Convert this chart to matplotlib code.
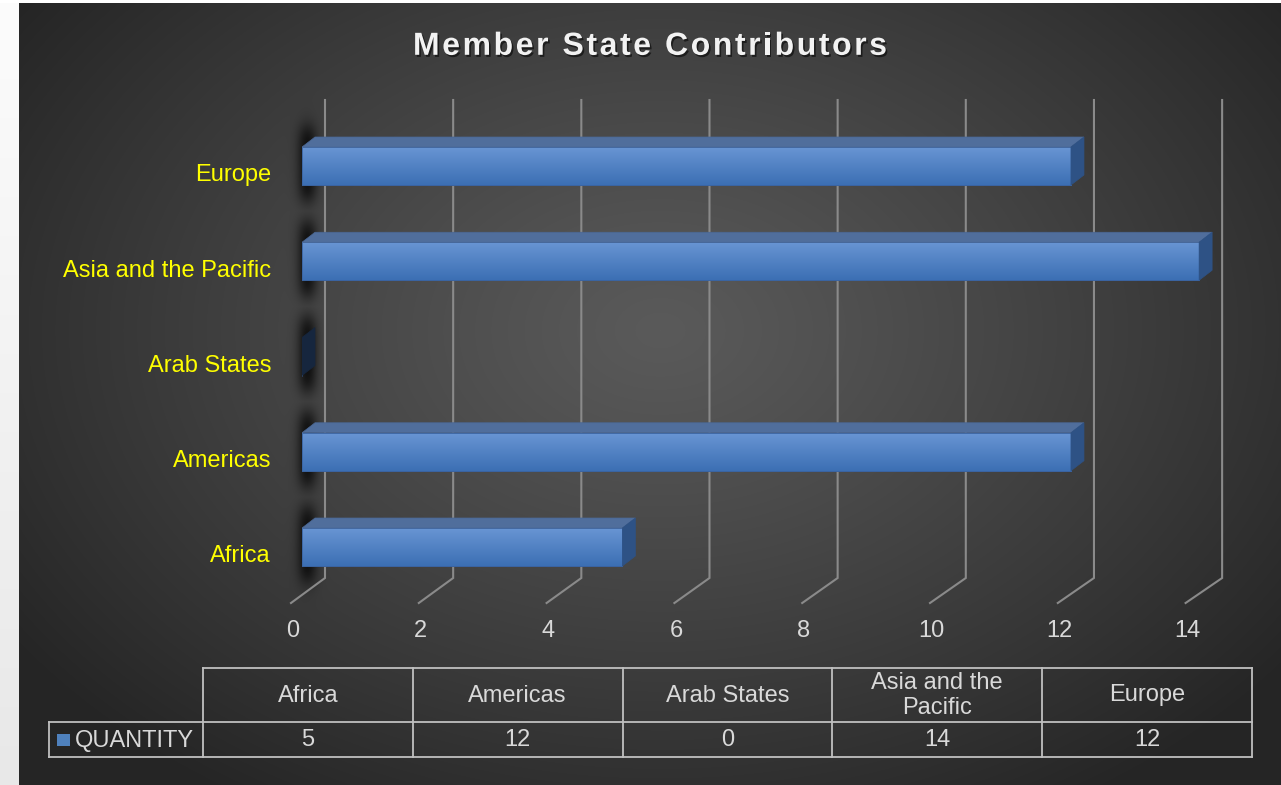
import textwrap
import numpy as np
import matplotlib
matplotlib.use("Agg")
import matplotlib.pyplot as plt
from matplotlib.patches import Polygon, Rectangle
from matplotlib import patheffects as pe
from matplotlib.font_manager import FontProperties, findfont
from matplotlib.ft2font import FT2Font

# ---------------- data ----------------
categories = ["Africa", "Americas", "Arab States", "Asia and the Pacific", "Europe"]
quantity = [5, 12, 0, 14, 12]
x_ticks = [0, 2, 4, 6, 8, 10, 12, 14]
series_name = "QUANTITY"
title = "Member State Contributors"

# ---------------- layout / style ----------------
W, H, DPI = 1281, 785, 100
FONT = "Liberation Sans"
plt.rcParams["font.family"] = [FONT, "DejaVu Sans"]

X0, PPX = 302.0, 64.08          # front plane: value 0 pixel, pixels per unit
CAT0_Y, CAT_STEP = 547.0, 95.25  # pixel centre of first category, spacing
BAR_PX = 38.0
DEPTH_DX, DEPTH_DY = 13.0, 10.0  # bar depth offset (px)
BACK_DX = 23.0                   # back wall offset (px)
GRID_TOP, GRID_BOT, FLOOR_FRONT = 100.0, 578.0, 603.0
FLOOR_X0, FLOOR_SCALE = 291.0, 63.9 / 64.08
TICK_Y, TICK_X0 = 631.0, 292.7
LABEL_RIGHT = 271.0
LABEL_BASE_OFF = 15.5
FS_TXT = 17.0
TXT_COL = "#d9d9d9"
GRID_COL = "#8a8a8a"

fig = plt.figure(figsize=(W / DPI, H / DPI), dpi=DPI)

# main (front plane) axes
ax_bottom_px = CAT0_Y + 0.5 * CAT_STEP
ax = fig.add_axes([X0 / W, 1 - ax_bottom_px / H, 15 * PPX / W, 5 * CAT_STEP / H])
ax.set_xlim(0, 15)
ax.set_ylim(-0.5, 4.5)
ax.set_axis_off()
ax.patch.set_alpha(0)


def px2d(p):
    return (p - X0) / PPX


def py2d(p):
    return (CAT0_Y - p) / CAT_STEP


DX, DY = DEPTH_DX / PPX, DEPTH_DY / CAT_STEP
bar_h = BAR_PX / CAT_STEP

# ---------------- background with radial gradient + bar shadows ----------------
yy, xx = np.mgrid[0:H, 0:W].astype(float)
r = np.sqrt(((xx - 660) / 790) ** 2 + ((yy - 330) / 560) ** 2)
g = (0x5a - (0x5a - 0x25) * np.clip(r, 0, 1) ** 1.15) / 255.0
bg = np.dstack([g, g, g])

shadow = np.zeros((H, W))
for i in range(len(categories)):
    disp = ax.transData.transform((0, i))
    yc = H - disp[1]
    xc = disp[0] + 5
    t, b = yc - BAR_PX / 2 - 20, yc + BAR_PX / 2 + 14
    mx = np.exp(-0.5 * ((xx - xc) / 7.0) ** 2)
    my = 1 / (1 + np.exp(-(yy - t) / 6)) * 1 / (1 + np.exp((yy - b) / 6))
    shadow = np.maximum(shadow, 0.78 * mx * my)
bg = bg * (1 - shadow[..., None])

# page strip on the left / top
strip = (252 - 20 * yy[:, :19] / H) / 255.0
bg[:, :19, :] = strip[..., None]
bg[:3, :, :] = 1.0

bgax = fig.add_axes([0, 0, 1, 1])
bgax.set_zorder(-1)
bgax.imshow(bg, extent=[0, W, H, 0], interpolation="bilinear", aspect="auto")
bgax.set_xlim(0, W)
bgax.set_ylim(H, 0)
bgax.set_axis_off()

# ---------------- gridlines (back wall + floor) ----------------
for v in x_ticks:
    xb = v + BACK_DX / PPX
    xf = v * FLOOR_SCALE + px2d(FLOOR_X0)
    ax.plot([xb, xb, xf], [py2d(GRID_TOP), py2d(GRID_BOT), py2d(FLOOR_FRONT)],
            color=GRID_COL, lw=1.5, zorder=1, clip_on=False, solid_joinstyle="miter")
    ax.text(v * FLOOR_SCALE + px2d(TICK_X0), py2d(TICK_Y), str(v), ha="center",
            va="center", fontsize=FS_TXT, color=TXT_COL, clip_on=False)

# ---------------- bars ----------------
bars = ax.barh(range(len(categories)), quantity, height=bar_h, color="#4a7cbf",
               edgecolor="#3a64a2", linewidth=0.6, zorder=3)
grad = np.linspace(0, 1, 64)[:, None]
top_c = np.array([0x68, 0x95, 0xd3]) / 255
bot_c = np.array([0x3c, 0x6f, 0xb4]) / 255
grad_img = (top_c[None, None, :] * (1 - grad[..., None]) + bot_c[None, None, :] * grad[..., None])
for bar in bars:
    x0, y0, w, hh = bar.get_x(), bar.get_y(), bar.get_width(), bar.get_height()
    if w > 0:
        im = ax.imshow(grad_img, extent=[x0, x0 + w, y0, y0 + hh], origin="upper",
                       aspect="auto", zorder=3.5, interpolation="bilinear")
        im.set_clip_path(bar)
        ax.add_patch(Rectangle((x0, y0), w, hh, facecolor="none", edgecolor="#3a64a2",
                               lw=0.6, zorder=3.6))
        ax.add_patch(Polygon([(x0, y0 + hh), (x0 + w, y0 + hh), (x0 + w + DX, y0 + hh + DY),
                              (x0 + DX, y0 + hh + DY)], closed=True, facecolor="#506e9c",
                             edgecolor="#4a6794", lw=0.5, zorder=4))
        side_col = "#2e5285"
    else:
        side_col = "#16263e"
    ax.add_patch(Polygon([(x0 + w, y0), (x0 + w + DX, y0 + DY), (x0 + w + DX, y0 + hh + DY),
                          (x0 + w, y0 + hh)], closed=True, facecolor=side_col,
                         edgecolor=side_col, lw=0.5, zorder=4))
ax.set_xlim(0, 15)
ax.set_ylim(-0.5, 4.5)

# category labels
for i, cat in enumerate(categories):
    ax.text(px2d(LABEL_RIGHT), i - LABEL_BASE_OFF / CAT_STEP, cat, ha="right",
            va="baseline", fontsize=FS_TXT, color="#ffff00", clip_on=False)

# ---------------- overlay axes in pixel coordinates (title + data table) ----------------
tax = fig.add_axes([0, 0, 1, 1])
tax.set_xlim(0, W)
tax.set_ylim(H, 0)
tax.set_axis_off()
tax.patch.set_alpha(0)

# title with letter spacing
TITLE_FS, TITLE_W, TITLE_CX, TITLE_BASE = 23.0, 474.0, 650.0, 54.8
fpath = findfont(FontProperties(family=FONT, weight="bold"))
ft = FT2Font(fpath)
ft.set_size(TITLE_FS, DPI)
adv = [ft.load_char(ord(c)).linearHoriAdvance / 65536 for c in title]
sp = (TITLE_W - sum(adv)) / (len(title) - 1)
x = TITLE_CX - TITLE_W / 2
for c, a in zip(title, adv):
    if c != " ":
        tax.text(x, TITLE_BASE, c, ha="left", va="baseline", fontsize=TITLE_FS,
                 fontweight="bold", color="#f2f2f2",
                 path_effects=[pe.withSimplePatchShadow(offset=(1.2, -1.5),
                                                        shadow_rgbFace="black", alpha=0.55)])
    x += a + sp

# data table
T_LEFT, T_RIGHT, RL_LEFT = 203.0, 1252.0, 49.0
R_TOP, R_MID, R_BOT = 668.0, 722.0, 757.0
LINE_COL = "#c0c0c0"
ncol = len(categories)
col_w = (T_RIGHT - T_LEFT) / ncol
lk = dict(color=LINE_COL, lw=1.3, solid_capstyle="projecting")
tax.plot([T_LEFT, T_RIGHT], [R_TOP, R_TOP], **lk)
tax.plot([RL_LEFT, T_RIGHT], [R_MID, R_MID], **lk)
tax.plot([RL_LEFT, T_RIGHT], [R_BOT, R_BOT], **lk)
tax.plot([RL_LEFT, RL_LEFT], [R_MID, R_BOT], **lk)
for k in range(ncol + 1):
    xk = T_LEFT + k * col_w
    tax.plot([xk, xk], [R_TOP, R_BOT], **lk)
for k, (cat, v) in enumerate(zip(categories, quantity)):
    xc = T_LEFT + (k + 0.5) * col_w
    tax.text(xc, (R_TOP + R_MID) / 2 + 0.5, textwrap.fill(cat, 12), ha="center", va="center",
             fontsize=FS_TXT, color=TXT_COL, linespacing=1.2)
    tax.text(xc, (R_MID + R_BOT) / 2 + 1, str(v), ha="center", va="center",
             fontsize=FS_TXT, color=TXT_COL)
tax.add_patch(Rectangle((57, 733.5), 12.5, 12.5, facecolor="#4f81bd", edgecolor="none"))
tax.text(75, (R_MID + R_BOT) / 2 + 1, series_name, ha="left", va="center",
         fontsize=FS_TXT, color=TXT_COL)

fig.savefig("out.png", dpi=DPI)
